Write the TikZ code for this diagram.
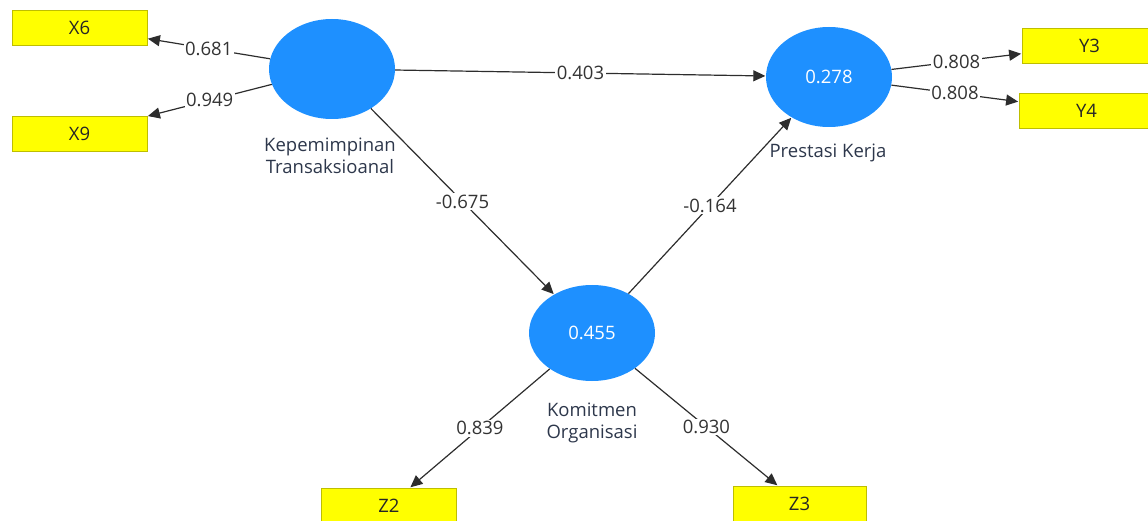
\documentclass[tikz,border=0pt]{standalone}
\usepackage{fontspec}
\setmainfont{Open Sans}
\usetikzlibrary{shapes.geometric,arrows.meta}
\definecolor{lvblue}{RGB}{30,144,255}
\definecolor{indyellow}{RGB}{255,255,0}
\definecolor{indborder}{RGB}{190,190,0}
\definecolor{edgegray}{RGB}{45,45,45}
\definecolor{nametext}{RGB}{45,55,75}
\tikzset{
  latent/.style={ellipse, fill=lvblue, draw=none, minimum width=126pt, minimum height=100pt, inner sep=0pt, text=white, font=\fontsize{18.5}{21}\selectfont},
  indicator/.style={rectangle, fill=indyellow, draw=indborder, line width=0.8pt, minimum width=135pt, minimum height=35pt, inner sep=0pt, font=\fontsize{18.5}{21}\selectfont, text=black!85},
  lvname/.style={align=center, text=nametext, font=\fontsize{18.5}{22}\selectfont},
  path/.style={draw=edgegray, line width=1.2pt, -{Triangle[length=12pt,width=11pt]}, shorten >=0.5pt},
  coef/.style={fill=white, inner sep=1.5pt, text=black!80, font=\fontsize{18.5}{21}\selectfont, midway}
}
\begin{document}
\begin{tikzpicture}[x=1pt,y=-1pt]
\useasboundingbox (0,0) rectangle (1148,521);
% latent variables
\node[latent] (kep) at (332,69) {};
\node[latent] (pres) at (829,77) {0.278};
\node[latent, minimum height=96pt] (kom) at (592,333) {0.455};
% names
\node[lvname] (kepname) at (330,156) {Kepemimpinan\\Transaksioanal};
\node[lvname] (presname) at (828,153) {Prestasi Kerja};
\node[lvname] (komname) at (592,423) {Komitmen\\Organisasi};
% indicators
\node[indicator] (x6) at (79.5,27.5) {X6};
\node[indicator] (x9) at (79.5,133.5) {X9};
\node[indicator] (y3) at (1089.5,45.5) {Y3};
\node[indicator] (y4) at (1086.5,110.5) {Y4};
\node[indicator] (z2) at (389,505.5) {Z2};
\node[indicator, minimum width=133pt] (z3) at (799.5,503.5) {Z3};
% paths
\draw[path] (kep) -- node[coef] {0.681} (x6);
\draw[path] (kep) -- node[coef] {0.949} (x9);
\draw[path] (kep) -- node[coef] {0.403} (pres);
\draw[path] (kep) -- node[coef] {-0.675} (kom);
\draw[path] (kom) -- node[coef] {-0.164} (pres);
\draw[path] (pres) -- node[coef] {0.808} (y3);
\draw[path] (pres) -- node[coef] {0.808} (y4);
\draw[path] (kom) -- node[coef] {0.839} (z2);
\draw[path] (kom) -- node[coef] {0.930} (z3);
\end{tikzpicture}
\end{document}
